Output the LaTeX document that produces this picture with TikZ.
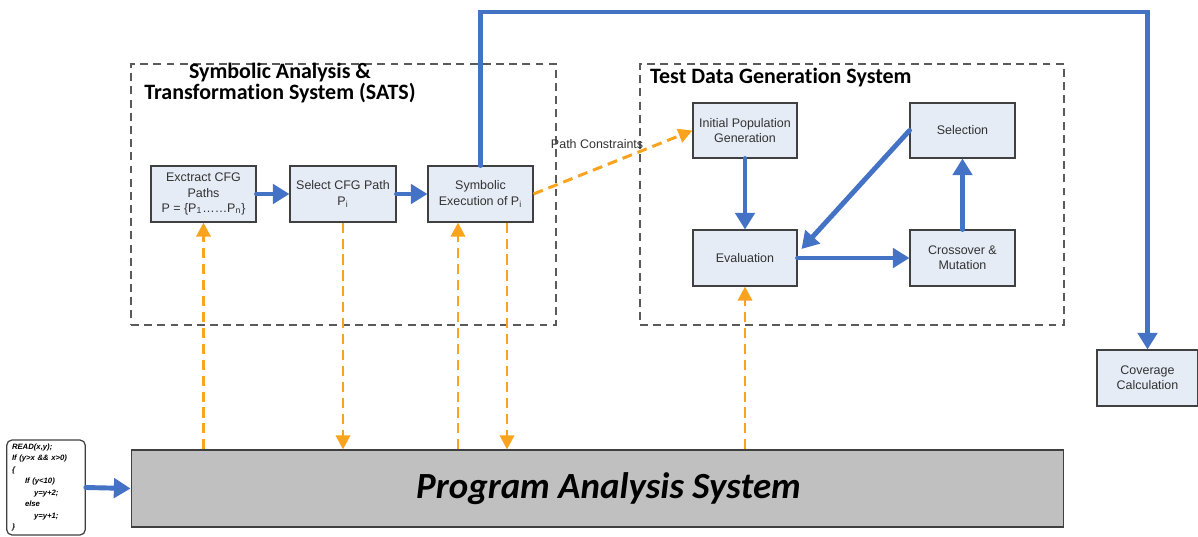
\documentclass[tikz,border=0pt]{standalone}
\usepackage{fontspec}
\setmainfont{Liberation Sans}
\newfontfamily\titlefont[Ligatures={NoCommon}]{Carlito}
\usepackage{tikz}
\usetikzlibrary{arrows.meta, positioning, calc}
\usepackage{xcolor}
\definecolor{flowblue}{RGB}{68,114,196}
\definecolor{dataorange}{RGB}{250,163,30}
\definecolor{boxfill}{RGB}{230,236,246}
\definecolor{boxline}{RGB}{64,64,64}
\definecolor{groupline}{RGB}{90,90,90}
\definecolor{pasgray}{RGB}{192,192,192}
\definecolor{labeltext}{RGB}{50,50,50}

\tikzset{
  proc/.style={draw=boxline, fill=boxfill, line width=0.6pt, align=center, text=labeltext,
    font=\fontsize{7.1}{8.6}\selectfont, inner sep=2pt},
  groupbox/.style={draw=groupline, dash pattern=on 4.5pt off 3pt, line width=0.8pt},
  flow/.style={flowblue, line width=2.8pt, line cap=round,
    -{Triangle[length=9.5pt, width=11pt]}},
  data/.style={dataorange, line width=1.7pt, dash pattern=on 5.7pt off 3.4pt,
    -{Triangle[length=8pt, width=8pt]}},
}

\begin{document}
\begin{tikzpicture}[x=0.02cm, y=-0.02cm]
  \useasboundingbox (0,0) rectangle (1198,537);

  % Dashed groups
  \node[groupbox, minimum width=8.5cm, minimum height=5.22cm] (sats) at (343.5,194.5) {};
  \node[groupbox, minimum width=8.48cm, minimum height=5.22cm] (tdgs) at (852,194.5) {};
  \node[align=center, font=\titlefont\bfseries\fontsize{12.5}{11}\selectfont] (satstitle) at (280,83)
    {Symbolic Analysis \&\\Transformation System (SATS)};
  \node[anchor=west, font=\titlefont\bfseries\fontsize{12.5}{14}\selectfont] (tdgstitle) at (644,78)
    {Test Data Generation System};

  % SATS steps
  \node[proc, minimum width=2.1cm, minimum height=1.12cm] (extract) at (203.5,194)
    {Exctract CFG\\Paths\\P = \{P\textsubscript{1}\ldots\ldots P\textsubscript{n}\}};
  \node[proc, minimum width=2.12cm, minimum height=1.12cm] (select) at (343,194)
    {Select CFG Path\\P\textsubscript{i}};
  \node[proc, minimum width=2.1cm, minimum height=1.12cm] (symexec) at (480.5,194)
    {Symbolic\\Execution of P\textsubscript{i}};

  % Genetic loop
  \node[proc, minimum width=2.08cm, minimum height=1.1cm] (initpop) at (745,130.5)
    {Initial Population\\Generation};
  \node[proc, minimum width=2.1cm, minimum height=1.1cm] (selection) at (962.5,130.5)
    {Selection};
  \node[proc, minimum width=2.08cm, minimum height=1.12cm] (evaluation) at (745,258)
    {Evaluation};
  \node[proc, minimum width=2.1cm, minimum height=1.12cm] (crossover) at (962.5,258)
    {Crossover \&\\Mutation};
  \node[proc, minimum width=2.02cm, minimum height=1.12cm] (coverage) at (1147.5,378)
    {Coverage\\Calculation};

  % Program analysis and input
  \node[draw=boxline, fill=pasgray, line width=0.6pt, minimum width=18.66cm, minimum height=1.54cm,
    font=\titlefont\bfseries\itshape\fontsize{21}{24}\selectfont] (pas) at (597.5,488.5)
    {\hspace*{0.44cm}\raisebox{0.1cm}{Program Analysis System}};
  \node[draw=boxline, fill=white, rounded corners=3pt, line width=0.7pt, text width=1.36cm,
    minimum height=1.9cm, inner xsep=3pt, inner ysep=1pt, align=left,
    font=\bfseries\itshape\fontsize{4.4}{6.5}\selectfont] (code) at (46,487.5)
    {READ(x,y);\\If (y>x \&\& x>0)\\\{\\\hspace*{2.6mm}If (y<10)\\\hspace*{4.4mm}y=y+2;\\
     \hspace*{2.6mm}else\\\hspace*{4.4mm}y=y+1;\\\}};

  \coordinate (topturn) at (1147.5,12);
  \coordinate (symin) at ($(symexec.south)+(-22.5,0)$);
  \coordinate (symout) at ($(symexec.south)+(26.5,0)$);

  % Blue control flow
  \draw[flow] (extract.east) -- (select.west);
  \draw[flow] (select.east) -- (symexec.west);
  \draw[flow] (symexec.north) |- (topturn) -- (coverage.north);
  \draw[flow] (initpop.south) -- (evaluation.north);
  \draw[flow] (selection.west) -- ($(evaluation.east)+(4,-9)$);
  \draw[flow] (evaluation.east) -- (crossover.west);
  \draw[flow] (crossover.north) -- (selection.south);
  \draw[flow] (code.east) -- (pas.west);

  % Orange data exchange
  \draw[data] (extract.south |- pas.north) -- (extract.south);
  \draw[data] (select.south) -- (select.south |- pas.north);
  \draw[data] (symin |- pas.north) -- (symin);
  \draw[data] (symout) -- (symout |- pas.north);
  \draw[data] (evaluation.south |- pas.north) -- (evaluation.south);
  \draw[data] (symexec.east) -- (initpop.west)
    node[pos=0.4, above=0.33cm, inner sep=1pt, text=labeltext, font=\fontsize{7.1}{8.6}\selectfont] (pclabel) {Path Constraints};
\end{tikzpicture}
\end{document}
